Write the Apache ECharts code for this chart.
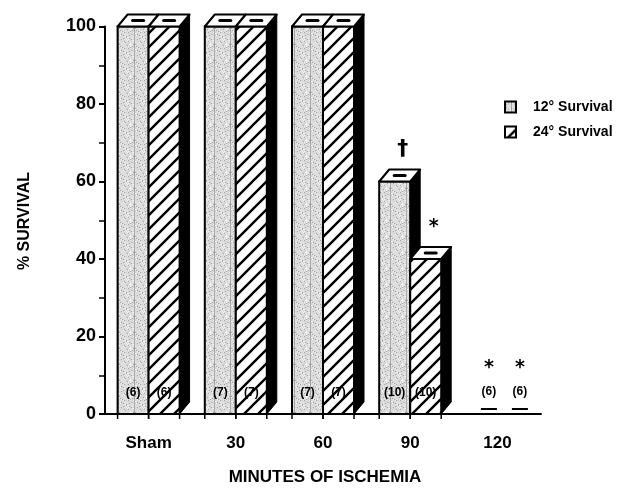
<!DOCTYPE html>
<html><head><meta charset="utf-8">
<script src="https://cdn.jsdelivr.net/npm/echarts@6/dist/echarts.min.js"></script>
<style>html,body{margin:0;padding:0;background:#fff}#c{width:629px;height:494px}</style>
</head><body><div id="c"></div>
<script>
const categories = ['Sham', '30', '60', '90', '120'];
const survival12 = [100, 100, 100, 60, 0];
const survival24 = [100, 100, 100, 40, 0];
const counts12 = ['(6)', '(7)', '(7)', '(10)', '(6)'];
const counts24 = ['(6)', '(7)', '(7)', '(10)', '(6)'];
const marks12 = ['', '', '', '†', '*'];
const marks24 = ['', '', '', '*', '*'];
const seriesNames = ['12° Survival', '24° Survival'];

function stippleCanvas() {
  const s = 16, c = document.createElement('canvas'); c.width = c.height = s;
  const g = c.getContext('2d'); g.fillStyle = '#dadada'; g.fillRect(0, 0, s, s);
  for (let y = 0; y < s; y++) for (let x = 0; x < s; x++) {
    const h = (x * 73 + y * 151 + x * y * 17) % 23;
    if (h < 3) { g.fillStyle = '#a4a4a4'; g.fillRect(x, y, 1, 1); }
    else if (h > 18) { g.fillStyle = '#f2f2f2'; g.fillRect(x, y, 1, 1); }
  }
  return c;
}
function hatchCanvas() {
  const s = 14, c = document.createElement('canvas'); c.width = c.height = s;
  const g = c.getContext('2d'); g.fillStyle = '#fff'; g.fillRect(0, 0, s, s);
  g.strokeStyle = '#000'; g.lineWidth = 2.4;
  g.beginPath();
  g.moveTo(-2, s + 2); g.lineTo(s + 2, -2);
  g.moveTo(-2, 2); g.lineTo(2, -2);
  g.moveTo(s - 2, s + 2); g.lineTo(s + 2, s - 2);
  g.stroke();
  return c;
}
const patterns = [
  { image: stippleCanvas(), repeat: 'repeat' },
  { image: hatchCanvas(), repeat: 'repeat' }
];
const counts = [counts12, counts24];
const marks = [marks12, marks24];
const DX = 10, DY = 12, BW = 31;
const FONT = '"Liberation Sans", Arial, Helvetica, sans-serif';
const MARKFONT = '"DejaVu Sans", sans-serif';

function makeRender(which) {
  return function (params, api) {
    const ci = api.value(0), v = api.value(1);
    const top = api.coord([ci, v]), base = api.coord([ci, 0]);
    const xc = top[0];
    const x0 = which === 0 ? xc - BW : xc, x1 = x0 + BW;
    const yT = top[1], yB = base[1], h = yB - yT;
    const ch = [];
    const idx = params.dataIndex;
    if (h > 0.5) {
      ch.push({ type: 'polygon', shape: { points: [[x1, yT], [x1 + DX, yT - DY], [x1 + DX, yB - DY], [x1, yB]] },
        style: { fill: '#000', stroke: '#000', lineWidth: 1 } });
      ch.push({ type: 'rect', shape: { x: x0, y: yT, width: BW, height: h },
        style: { fill: patterns[which], stroke: '#000', lineWidth: 2 } });
      ch.push({ type: 'polygon', shape: { points: [[x0, yT], [x1, yT], [x1 + DX, yT - DY], [x0 + DX, yT - DY]] },
        style: { fill: '#fff', stroke: '#000', lineWidth: 2, lineJoin: 'round' } });
      ch.push({ type: 'rect', shape: { x: x0 + DX / 2 + BW / 2 - 7, y: yT - DY / 2 - 1.5, width: 14, height: 3, r: 1.5 },
        style: { fill: '#000' } });
      ch.push({ type: 'line', shape: { x1: x0, y1: yB, x2: x0, y2: yB + 5 }, style: { stroke: '#000', lineWidth: 1.5 } });
      ch.push({ type: 'line', shape: { x1: x1, y1: yB, x2: x1, y2: yB + 5 }, style: { stroke: '#000', lineWidth: 1.5 } });
      ch.push({ type: 'text', style: { text: counts[which][idx], x: x0 + BW / 2, y: yB - 21, align: 'center', verticalAlign: 'middle',
        fill: '#000', font: 'bold 12px ' + FONT } });
      if (marks[which][idx]) {
        const isDagger = marks[which][idx] === '†';
        ch.push({ type: 'text', style: { text: marks[which][idx], x: x0 + BW / 2 + 8, y: yT - (isDagger ? 32 : 32),
          align: 'center', verticalAlign: 'middle', fill: '#000', font: 'bold ' + (isDagger ? 22 : 19) + 'px ' + MARKFONT } });
      }
    } else {
      const cx = x0 + BW / 2 + 7;
      ch.push({ type: 'line', shape: { x1: cx - 8, y1: yB - 5, x2: cx + 8, y2: yB - 5 }, style: { stroke: '#000', lineWidth: 2 } });
      ch.push({ type: 'text', style: { text: counts[which][idx], x: cx, y: yB - 22, align: 'center', verticalAlign: 'middle',
        fill: '#000', font: 'bold 12px ' + FONT } });
      if (marks[which][idx]) {
        ch.push({ type: 'text', style: { text: marks[which][idx], x: cx, y: yB - 46, align: 'center', verticalAlign: 'middle',
          fill: '#000', font: 'bold 19px ' + MARKFONT } });
      }
    }
    return { type: 'group', children: ch };
  };
}

const chart = echarts.init(document.getElementById('c'), null, { renderer: 'canvas' });
chart.setOption({
  animation: false,
  backgroundColor: '#fff',
  grid: { left: 105, right: 88, top: 26.5, bottom: 80 },
  legend: {
    orient: 'vertical', left: 504, top: 100, padding: 0, itemWidth: 11, itemHeight: 11, itemGap: 11,
    icon: 'rect',
    itemStyle: { borderColor: '#000', borderWidth: 2 },
    textStyle: { fontFamily: FONT, fontWeight: 'bold', fontSize: 14, color: '#000', padding: [0, 0, 0, 12] },
    data: seriesNames
  },
  xAxis: {
    type: 'category', data: categories,
    axisLine: { lineStyle: { color: '#000', width: 2 } },
    axisTick: { show: false },
    axisLabel: { color: '#000', fontFamily: FONT, fontWeight: 'bold', fontSize: 17, margin: 21 }
  },
  yAxis: {
    type: 'value', min: 0, max: 100, interval: 20,
    axisLine: { show: true, lineStyle: { color: '#000', width: 2 } },
    axisTick: { show: true, length: 6, lineStyle: { color: '#000', width: 2 } },
    minorTick: { show: true, splitNumber: 2, length: 6, lineStyle: { color: '#000', width: 1.5 } },
    splitLine: { show: false },
    axisLabel: { color: '#000', fontFamily: FONT, fontWeight: 'bold', fontSize: 18, margin: 9 }
  },
  graphic: [
    { type: 'text', x: 25, y: 221, rotation: Math.PI / 2, style: { text: '% SURVIVAL', align: 'center', verticalAlign: 'middle',
      fill: '#000', font: 'bold 16px ' + FONT } },
    { type: 'text', x: 325, y: 477, style: { text: 'MINUTES OF ISCHEMIA', align: 'center', verticalAlign: 'middle',
      fill: '#000', font: 'bold 17px ' + FONT } }
  ],
  series: [
    { name: seriesNames[0], type: 'custom', renderItem: makeRender(0), itemStyle: { color: patterns[0] },
      encode: { x: 0, y: 1 }, data: categories.map((c, i) => [i, survival12[i]]) },
    { name: seriesNames[1], type: 'custom', renderItem: makeRender(1), itemStyle: { color: patterns[1] },
      encode: { x: 0, y: 1 }, data: categories.map((c, i) => [i, survival24[i]]) }
  ]
});
</script></body></html>
